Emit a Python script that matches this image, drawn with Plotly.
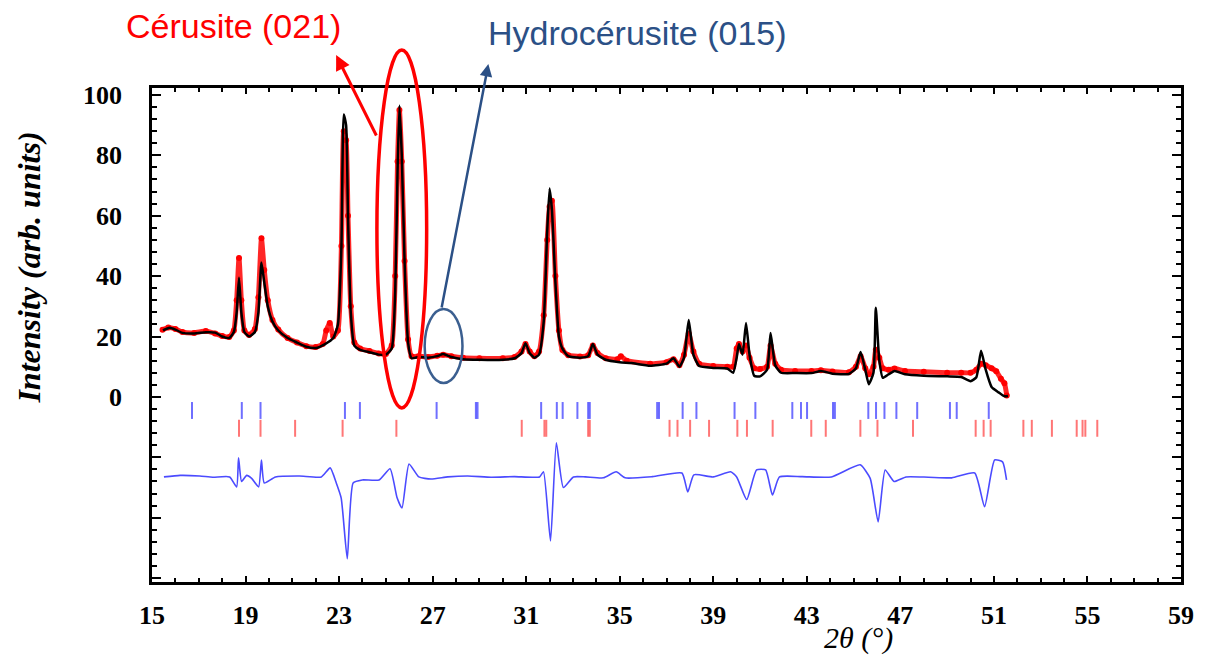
import plotly.graph_objects as go

# ---------------- data ----------------
calc_2theta = [15.47, 15.75, 16.0, 16.3, 16.8, 17.3, 17.7, 18.0, 18.3, 18.5, 18.62, 18.72, 18.82, 18.95,
               19.15, 19.4, 19.55, 19.68, 19.8, 19.95, 20.15, 20.4, 20.8, 21.2, 21.6, 22.0, 22.4, 22.75,
               22.95, 23.1, 23.2, 23.3, 23.38, 23.5, 23.65, 23.9, 24.3, 24.7, 25.0, 25.25, 25.4, 25.5,
               25.58, 25.68, 25.8, 25.95, 26.1, 26.4, 26.8, 27.2, 27.45, 27.8, 28.3, 29.0, 30.0, 30.5,
               30.8, 30.97, 31.15, 31.35, 31.55, 31.75, 31.9, 32.0, 32.1, 32.25, 32.4, 32.55, 32.8, 33.3,
               33.65, 33.85, 34.05, 34.4, 35.0, 35.5, 36.3, 37.0, 37.3, 37.55, 37.75, 37.95, 38.15, 38.4,
               39.0, 39.6, 39.85, 40.0, 40.1, 40.25, 40.4, 40.55, 40.75, 41.0, 41.3, 41.45, 41.65, 41.9,
               42.5, 43.2, 43.6, 44.1, 44.8, 45.1, 45.3, 45.5, 45.65, 45.85, 45.95, 46.1, 46.25, 46.5,
               46.75, 47.2, 48.0, 49.0, 49.6, 50.0, 50.25, 50.45, 50.65, 50.9, 51.2, 51.45, 51.6]
calc_intensity = [22.0, 22.9, 22.3, 21.2, 21.0, 21.4, 21.3, 20.0, 19.5, 21.5, 28, 39.5, 28, 21.5,
                  20.0, 21.5, 28, 44.5, 38, 30, 25, 22, 19.5, 18, 16.6, 16.2, 17.5, 19.5,
                  24, 50, 93.5, 90, 60, 28, 17, 15.6, 14.8, 14.0, 14.0, 16, 35, 75,
                  96.5, 80, 45, 18, 12.8, 13.2, 13.0, 13.5, 14.2, 13.2, 12.5, 12.3, 12.3, 12.8,
                  14.5, 17.8, 14.5, 13.0, 14.0, 25, 55, 69, 62, 38, 20, 16, 13.5, 13,
                  13.5, 17.5, 14.0, 12.3, 11.5, 11.2, 10.3, 11.0, 12.8, 10.0, 13, 25.5, 14, 10.2,
                  9.6, 9.4, 8.0, 13, 17.5, 14, 24.5, 14, 7.0, 6.8, 9, 21.2, 10.5, 8.0,
                  7.9, 7.9, 8.6, 7.7, 7.6, 9.5, 14.9, 9, 4.2, 8, 29.5, 12, 6.3, 7.5,
                  8.6, 7.5, 7.0, 6.8, 6.6, 5.2, 6.5, 15.3, 9, 3.3, 1.5, 0.2, 0.3]

obs_2theta = [15.45, 15.7, 16.0, 16.3, 16.8, 17.3, 17.7, 18.0, 18.3, 18.5, 18.62, 18.72, 18.82, 18.95,
              19.15, 19.4, 19.55, 19.68, 19.8, 19.95, 20.15, 20.4, 20.8, 21.2, 21.6, 22.0, 22.3, 22.45,
              22.6, 22.75, 22.95, 23.1, 23.2, 23.3, 23.38, 23.5, 23.65, 23.9, 24.3, 24.7, 25.0, 25.25,
              25.4, 25.5, 25.58, 25.68, 25.8, 25.95, 26.1, 26.4, 26.8, 27.2, 27.45, 27.8, 28.3, 29.0,
              30.0, 30.5, 30.8, 30.97, 31.15, 31.35, 31.55, 31.75, 31.9, 32.0, 32.1, 32.25, 32.4, 32.55,
              32.8, 33.3, 33.65, 33.85, 34.05, 34.4, 34.9, 35.05, 35.3, 36.3, 37.0, 37.3, 37.55, 37.75,
              37.95, 38.15, 38.4, 39.0, 39.6, 39.85, 40.0, 40.1, 40.25, 40.4, 40.55, 40.75, 41.0, 41.3,
              41.45, 41.65, 41.9, 42.5, 43.2, 43.6, 44.1, 44.8, 45.1, 45.3, 45.5, 45.65, 45.85, 45.95,
              46.1, 46.25, 46.5, 46.75, 47.2, 48.0, 49.0, 49.6, 50.0, 50.25, 50.45, 50.65, 50.9, 51.1,
              51.3, 51.45, 51.55]
obs_intensity = [22.2, 23.0, 22.5, 21.5, 21.2, 21.8, 21.0, 20.2, 19.8, 22, 32, 46, 32, 22,
                 20.5, 22.5, 33, 52.5, 42, 32, 25.5, 22.3, 19.5, 18, 16.8, 16.5, 17.5, 22,
                 24.5, 20, 22, 50, 88, 85, 60, 30, 18, 16, 15.2, 14.4, 14.2, 17,
                 40, 78, 95, 78, 45, 19, 13.5, 13.5, 13.2, 13.6, 14.0, 13.5, 13.0, 12.8,
                 12.8, 13.2, 15, 17.5, 15, 13.5, 15, 27, 52, 63, 65, 40, 22, 15.5,
                 13.8, 13.4, 13.8, 17, 14.5, 12.8, 12.5, 13.5, 12.0, 11.0, 11.5, 12.5, 10.5, 14,
                 21, 15, 11.0, 10.2, 10.0, 10, 16, 17.5, 15, 17, 13, 9.5, 9.2, 10,
                 17, 11, 9.0, 8.6, 8.6, 8.8, 8.4, 8.2, 10, 13.5, 9.5, 7.5, 10, 15.6,
                 13, 9.5, 9.0, 9.4, 8.6, 8.3, 8.0, 8.0, 8.0, 9, 11, 10.5, 9.5, 8.5,
                 6.0, 4.5, 0.5]

diff_2theta = [15.51, 16.2, 17.04, 17.6, 18.32, 18.62, 18.70, 18.83, 19.05, 19.26, 19.56, 19.68, 19.8,
               20.28, 21.3, 22.24, 22.62, 22.88, 23.09, 23.35, 23.6, 23.99, 24.71, 25.18, 25.48, 25.69,
               25.99, 26.41, 26.93, 27.65, 28.5, 29.5, 30.5, 31.57, 31.74, 32.04, 32.29, 32.59, 33.02,
               33.53, 34.3, 34.85, 35.23, 36.4, 37.66, 37.91, 38.17, 39.0, 39.74, 40.0, 40.43, 40.85,
               41.24, 41.53, 41.83, 42.8, 44.05, 45.28, 45.71, 46.05, 46.35, 46.73, 47.24, 48.2, 49.2,
               50.18, 50.6, 51.03, 51.37, 51.54]
diff_intensity = [-26.5, -26.0, -26.2, -26.6, -26.5, -29.8, -20.2, -28, -26, -27, -29.8, -20.9, -28.5,
                  -26.5, -26.2, -26.5, -23.5, -28.5, -33.5, -53.6, -28.5, -27.5, -27.5, -23.8, -33.4, -36.8,
                  -22.2, -26.5, -27.2, -26.5, -26.2, -26.6, -26.4, -26.5, -24.8, -47.7, -15.2, -30, -26.5,
                  -26.5, -26.8, -24.8, -26.8, -26.4, -25.2, -31.5, -25.8, -26.5, -24.8, -26.5, -34, -24.2,
                  -24.2, -32.5, -26.5, -26.4, -26.5, -22.5, -27, -41.4, -24.2, -28, -26.5, -26.6, -26.8,
                  -25.2, -36.4, -20.9, -21.5, -27.5]

hydro_ticks = [16.71, 18.84, 19.64, 23.25, 23.89, 27.17, 28.85, 28.92, 31.64, 32.31, 32.56, 33.19,
               33.65, 33.72, 36.6, 36.68, 37.69, 38.28, 39.91, 40.80, 42.38, 42.75, 43.01, 44.12, 44.2,
               45.63, 45.96, 46.32, 46.83, 47.72, 49.12, 49.41, 50.78]
ceru_ticks = [18.72, 19.64, 21.12, 23.15, 25.45, 30.81, 31.78, 31.86, 33.65, 33.72, 37.13, 37.47,
              38.01, 38.82, 40.03, 40.44, 41.54, 43.19, 43.81, 45.29, 46.02, 47.54, 50.22, 50.56,
              50.86, 52.26, 52.62, 53.48, 54.54, 54.79, 54.91, 55.42]

x_tick_vals = [15, 19, 23, 27, 31, 35, 39, 43, 47, 51, 55, 59]
y_tick_vals = [-60, -40, -20, 0, 20, 40, 60, 80, 100]
y_tick_text = ["", "", "", "0", "20", "40", "60", "80", "100"]

# ---------------- layout geometry ----------------
W, H = 1206, 659
L, R, T, B = 152, 1186, 88, 582


def px(x):
    return (x - L) / (R - L)


def py(y):
    return (B - y) / (B - T)


def seg(vals, y0, y1):
    xs, ys = [], []
    for v in vals:
        xs += [v, v, None]
        ys += [y0, y1, None]
    return xs, ys


fig = go.Figure()
fig.add_trace(go.Scatter(x=obs_2theta, y=obs_intensity, mode="lines+markers",
                         line=dict(color="rgba(255,0,0,0.85)", width=5, shape="spline", smoothing=0.5),
                         marker=dict(color="red", size=6), showlegend=False))
fig.add_trace(go.Scatter(x=calc_2theta, y=calc_intensity, mode="lines",
                         line=dict(color="black", width=2.5, shape="spline", smoothing=0.5),
                         showlegend=False))
fig.add_trace(go.Scatter(x=diff_2theta, y=diff_intensity, mode="lines",
                         line=dict(color="#4b4bff", width=1.6, shape="spline", smoothing=0.5),
                         showlegend=False))
hx, hy = seg(hydro_ticks, -1.7, -7.3)
fig.add_trace(go.Scatter(x=hx, y=hy, mode="lines", line=dict(color="rgba(50,50,255,0.7)", width=2),
                         showlegend=False))
cx, cy = seg(ceru_ticks, -7.6, -13.2)
fig.add_trace(go.Scatter(x=cx, y=cy, mode="lines", line=dict(color="rgba(255,60,60,0.7)", width=2),
                         showlegend=False))

tickfont = dict(family="Liberation Serif", size=26, color="black", weight="bold")
fig.update_xaxes(range=[15, 59], tickvals=x_tick_vals, ticks="inside", ticklen=6, tickwidth=2,
                 tickcolor="black", showline=True, linecolor="black", linewidth=2.5, mirror="ticks",
                 showgrid=False, zeroline=False, tickfont=tickfont, ticklabelstandoff=8,
                 minor=dict(dtick=1, ticks="inside", ticklen=4, tickwidth=1.5, tickcolor="black",
                            showgrid=False))
fig.update_yaxes(range=[-61.3, 102.3], tickvals=y_tick_vals, ticktext=y_tick_text, ticks="inside",
                 ticklen=9, tickwidth=2, tickcolor="black", showline=True, linecolor="black",
                 linewidth=2.5, mirror="ticks", showgrid=False, zeroline=False, tickfont=tickfont,
                 ticklabelstandoff=22,
                 minor=dict(dtick=4, ticks="inside", ticklen=5, tickwidth=1.5, tickcolor="black",
                            showgrid=False))

shapes = [
    dict(type="circle", xref="paper", yref="paper", x0=px(378), x1=px(428), y0=py(408), y1=py(50),
         line=dict(color="red", width=3.5)),
    dict(type="circle", xref="paper", yref="paper", x0=px(426), x1=px(464), y0=py(383), y1=py(309),
         line=dict(color="#3b5f90", width=2.5)),
]

annotations = [
    dict(xref="paper", yref="paper", x=px(28), y=py(268), text="Intensity (arb. units)", textangle=-90,
         showarrow=False, font=dict(family="Liberation Serif", size=32, color="black", weight="bold",
                                    style="italic"), xanchor="center", yanchor="middle"),
    dict(xref="paper", yref="paper", x=px(862), y=py(638), text="2θ (°)", showarrow=False,
         font=dict(family="Liberation Serif", size=30, color="black", style="italic"),
         xanchor="center", yanchor="middle"),
    dict(xref="paper", yref="paper", x=px(124), y=py(26), text="Cérusite (021)", showarrow=False,
         font=dict(family="Liberation Sans", size=34, color="red"), xanchor="left", yanchor="middle"),
    dict(xref="paper", yref="paper", x=px(488), y=py(33), text="Hydrocérusite (015)", showarrow=False,
         font=dict(family="Liberation Sans", size=34, color="#2b5086"), xanchor="left", yanchor="middle"),
    dict(xref="paper", yref="paper", x=px(337), y=py(55), ax=41, ay=82, text="", showarrow=True,
         arrowhead=2, arrowsize=1, arrowwidth=3, arrowcolor="red"),
    dict(xref="paper", yref="paper", x=px(490), y=py(64), ax=-47, ay=245, text="", showarrow=True,
         arrowhead=2, arrowsize=1, arrowwidth=2.5, arrowcolor="#2b5086"),
]

fig.update_layout(width=W, height=H, margin=dict(l=L, r=W - R, t=T, b=H - B),
                  plot_bgcolor="white", paper_bgcolor="white", shapes=shapes, annotations=annotations,
                  showlegend=False)

fig.write_html("out.html", config={"displayModeBar": False},
               post_script="document.body.style.margin='0';")
